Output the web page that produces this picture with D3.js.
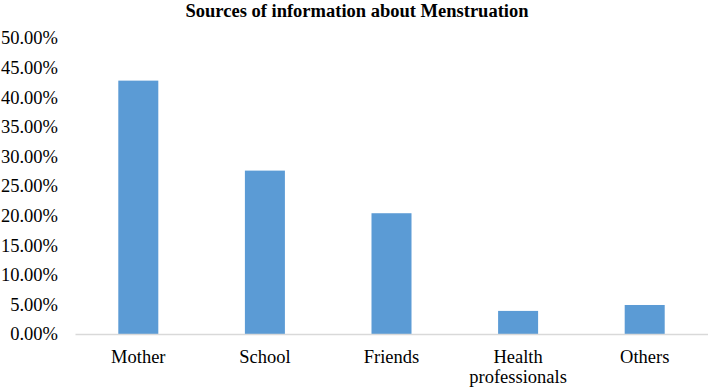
<!DOCTYPE html>
<html>
<head>
<meta charset="utf-8">
<script src="https://cdn.jsdelivr.net/npm/d3@7"></script>
<style>
  html, body { margin: 0; padding: 0; background: #fff; }
  svg { display: block; }
</style>
</head>
<body>
<script>
const categories = ["Mother", "School", "Friends", "Health professionals", "Others"];
const values = [42.8, 27.6, 20.4, 3.9, 4.9];
const yTicks = [0, 5, 10, 15, 20, 25, 30, 35, 40, 45, 50];
const title = "Sources of information about Menstruation";

const W = 708, H = 389;
const margin = { left: 75, right: 0, top: 38, bottom: 55 };
const svg = d3.select("body").append("svg").attr("width", W).attr("height", H);
const font = "'Liberation Serif', 'Times New Roman', serif";

const x = d3.scaleBand().domain(categories).range([margin.left, W - margin.right])
  .paddingInner(0.684).paddingOuter(0.342);
const y = d3.scaleLinear().domain([0, 50]).range([334, 38]);

svg.append("text").attr("x", 357).attr("y", 17).attr("text-anchor", "middle")
  .attr("font-family", font).attr("font-weight", "bold").attr("font-size", 18.5)
  .attr("fill", "#000").text(title);

svg.selectAll("rect.bar").data(values).join("rect").attr("class", "bar")
  .attr("x", (d, i) => x(categories[i])).attr("width", x.bandwidth())
  .attr("y", d => y(d)).attr("height", d => y(0) - y(d))
  .attr("fill", "#5b9bd5");

const yAxis = d3.axisLeft(y).tickValues(yTicks).tickSize(0).tickPadding(17)
  .tickFormat(d => d.toFixed(2) + "%");
const gy = svg.append("g").attr("transform", `translate(${margin.left},0)`).call(yAxis);
gy.select(".domain").remove();
gy.selectAll("text").attr("font-family", font).attr("font-size", 18.5).attr("fill", "#000");

const xAxis = d3.axisBottom(x).tickSize(0).tickPadding(0);
const gx = svg.append("g").attr("transform", `translate(0,${y(0)})`).call(xAxis);
gx.select(".domain").attr("stroke", "#d9d9d9").attr("stroke-width", 1.5);
gx.selectAll(".tick text").attr("font-family", font).attr("font-size", 18.5).attr("fill", "#000")
  .text(null)
  .each(function(d) {
    const t = d3.select(this);
    const words = d === "Health professionals" ? ["Health", "professionals"] : [d];
    words.forEach((w, i) => {
      t.append("tspan").attr("x", 0).attr("y", 29 + i * 20).text(w);
    });
  })
  .attr("dy", null);
</script>
</body>
</html>
